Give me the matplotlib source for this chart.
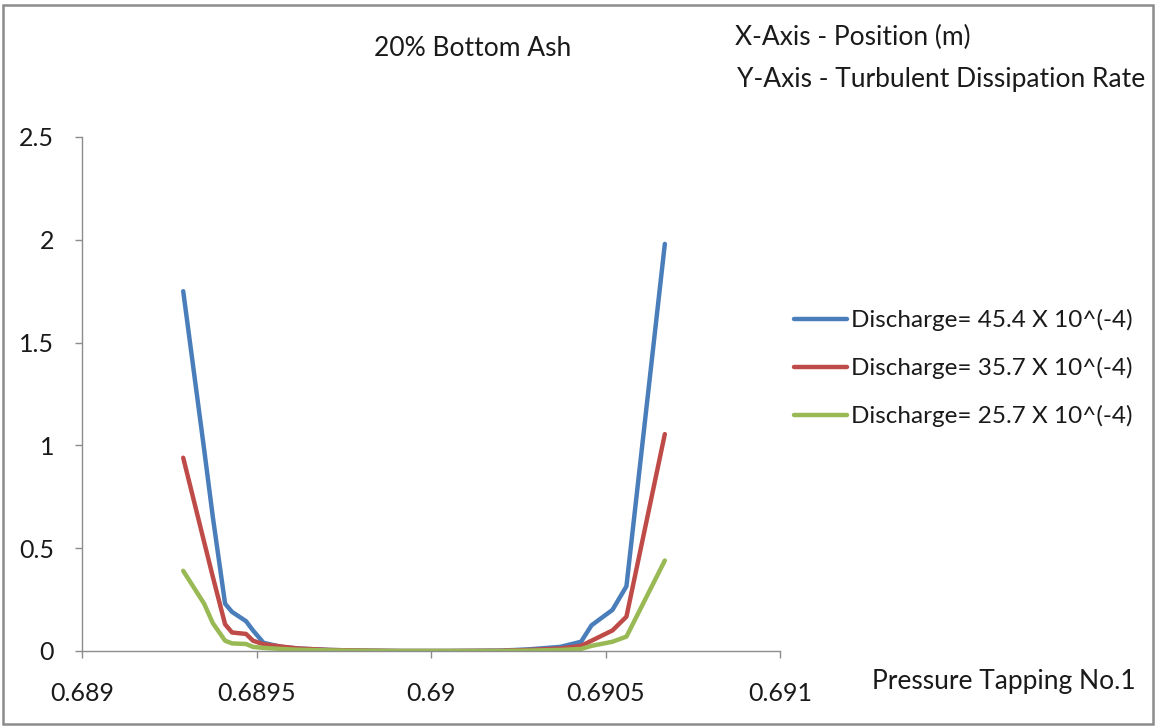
import matplotlib
matplotlib.use("Agg")
import matplotlib.pyplot as plt
from matplotlib.patches import Rectangle

plt.rcParams['font.family'] = ['Lato', 'DejaVu Sans']

# Position along the channel (m)
position = [0.68929, 0.68935, 0.689375, 0.68941, 0.68943, 0.68947, 0.68949,
            0.68952, 0.68957, 0.68962, 0.68971, 0.6898, 0.68991, 0.69005,
            0.6902, 0.69028, 0.69037, 0.69043, 0.69046, 0.69052, 0.69056,
            0.69067]

# Turbulent dissipation rate for each discharge
q_454 = [1.75, 0.98, 0.65, 0.23, 0.19, 0.145, 0.10, 0.04, 0.02, 0.012, 0.005,
         0.002, 0.0, 0.0, 0.002, 0.008, 0.02, 0.045, 0.125, 0.20, 0.315, 1.98]
q_357 = [0.94, 0.53, 0.36, 0.13, 0.09, 0.083, 0.05, 0.033, 0.022, 0.012, 0.005,
         0.002, 0.0, 0.0, 0.001, 0.005, 0.012, 0.025, 0.05, 0.10, 0.167, 1.055]
q_257 = [0.39, 0.23, 0.135, 0.05, 0.037, 0.034, 0.02, 0.015, 0.01, 0.006, 0.003,
         0.001, 0.0, 0.0, 0.0, 0.002, 0.005, 0.01, 0.025, 0.045, 0.07, 0.44]

series_labels = ["Discharge= 45.4 X 10^(-4)",
                 "Discharge= 35.7 X 10^(-4)",
                 "Discharge= 25.7 X 10^(-4)"]
series_colors = ["#4A7EBB", "#BE4B48", "#98B954"]

x_ticks = [0.689, 0.6895, 0.69, 0.6905, 0.691]
x_tick_labels = ["0.689", "0.6895", "0.69", "0.6905", "0.691"]
y_ticks = [0, 0.5, 1, 1.5, 2, 2.5]
y_tick_labels = ["0", "0.5", "1", "1.5", "2", "2.5"]

W, H = 1158, 728
TEXT = "#1A1A1A"
fig = plt.figure(figsize=(W / 100, H / 100), dpi=100)
ax = fig.add_axes([82 / W, 1 - 651 / H, (780 - 82) / W, (651 - 137) / H])

for vals, lab, col in zip([q_454, q_357, q_257], series_labels, series_colors):
    ax.plot(position, vals, color=col, lw=3.2, label=lab,
            solid_joinstyle='round', solid_capstyle='round')

ax.set_xlim(0.689, 0.691)
ax.set_ylim(0, 2.5)
ax.set_xticks(x_ticks)
ax.set_xticklabels(x_tick_labels)
ax.set_yticks(y_ticks)
ax.set_yticklabels(y_tick_labels)

for side in ("top", "right"):
    ax.spines[side].set_visible(False)
for side in ("left", "bottom"):
    ax.spines[side].set_color("#8C8C8C")
    ax.spines[side].set_linewidth(1.0)
ax.tick_params(axis="both", colors="#8C8C8C", labelcolor=TEXT,
               labelsize=18, length=5, width=1.0, direction="out")
ax.tick_params(axis="x", pad=17)
ax.tick_params(axis="y", pad=15)

leg = fig.legend(loc="upper left", bbox_to_anchor=(794 / W, 1 - 309 / H),
                 frameon=False, fontsize=17.5, handlelength=2.2,
                 handletextpad=0.15, labelspacing=1.07, borderaxespad=0,
                 borderpad=0)
for t in leg.get_texts():
    t.set_color(TEXT)

fig.text(473 / W, 1 - 48 / H, "20% Bottom Ash", ha="center", va="center",
         fontsize=19, color=TEXT)
fig.text(735 / W, 1 - 37 / H, "X-Axis - Position (m)", ha="left", va="center",
         fontsize=19, color=TEXT)
fig.text(737 / W, 1 - 80 / H, "Y-Axis - Turbulent Dissipation Rate", ha="left",
         va="center", fontsize=19, color=TEXT)
fig.text(872 / W, 1 - 682 / H, "Pressure Tapping No.1", ha="left", va="center",
         fontsize=19, color=TEXT)

fig.patches.append(Rectangle((3 / W, 4 / H), (W - 8) / W, (H - 9) / H,
                             transform=fig.transFigure, fill=False,
                             edgecolor="#8C8C8C", linewidth=1.8))

fig.savefig("out.png", dpi=100, facecolor="white")
